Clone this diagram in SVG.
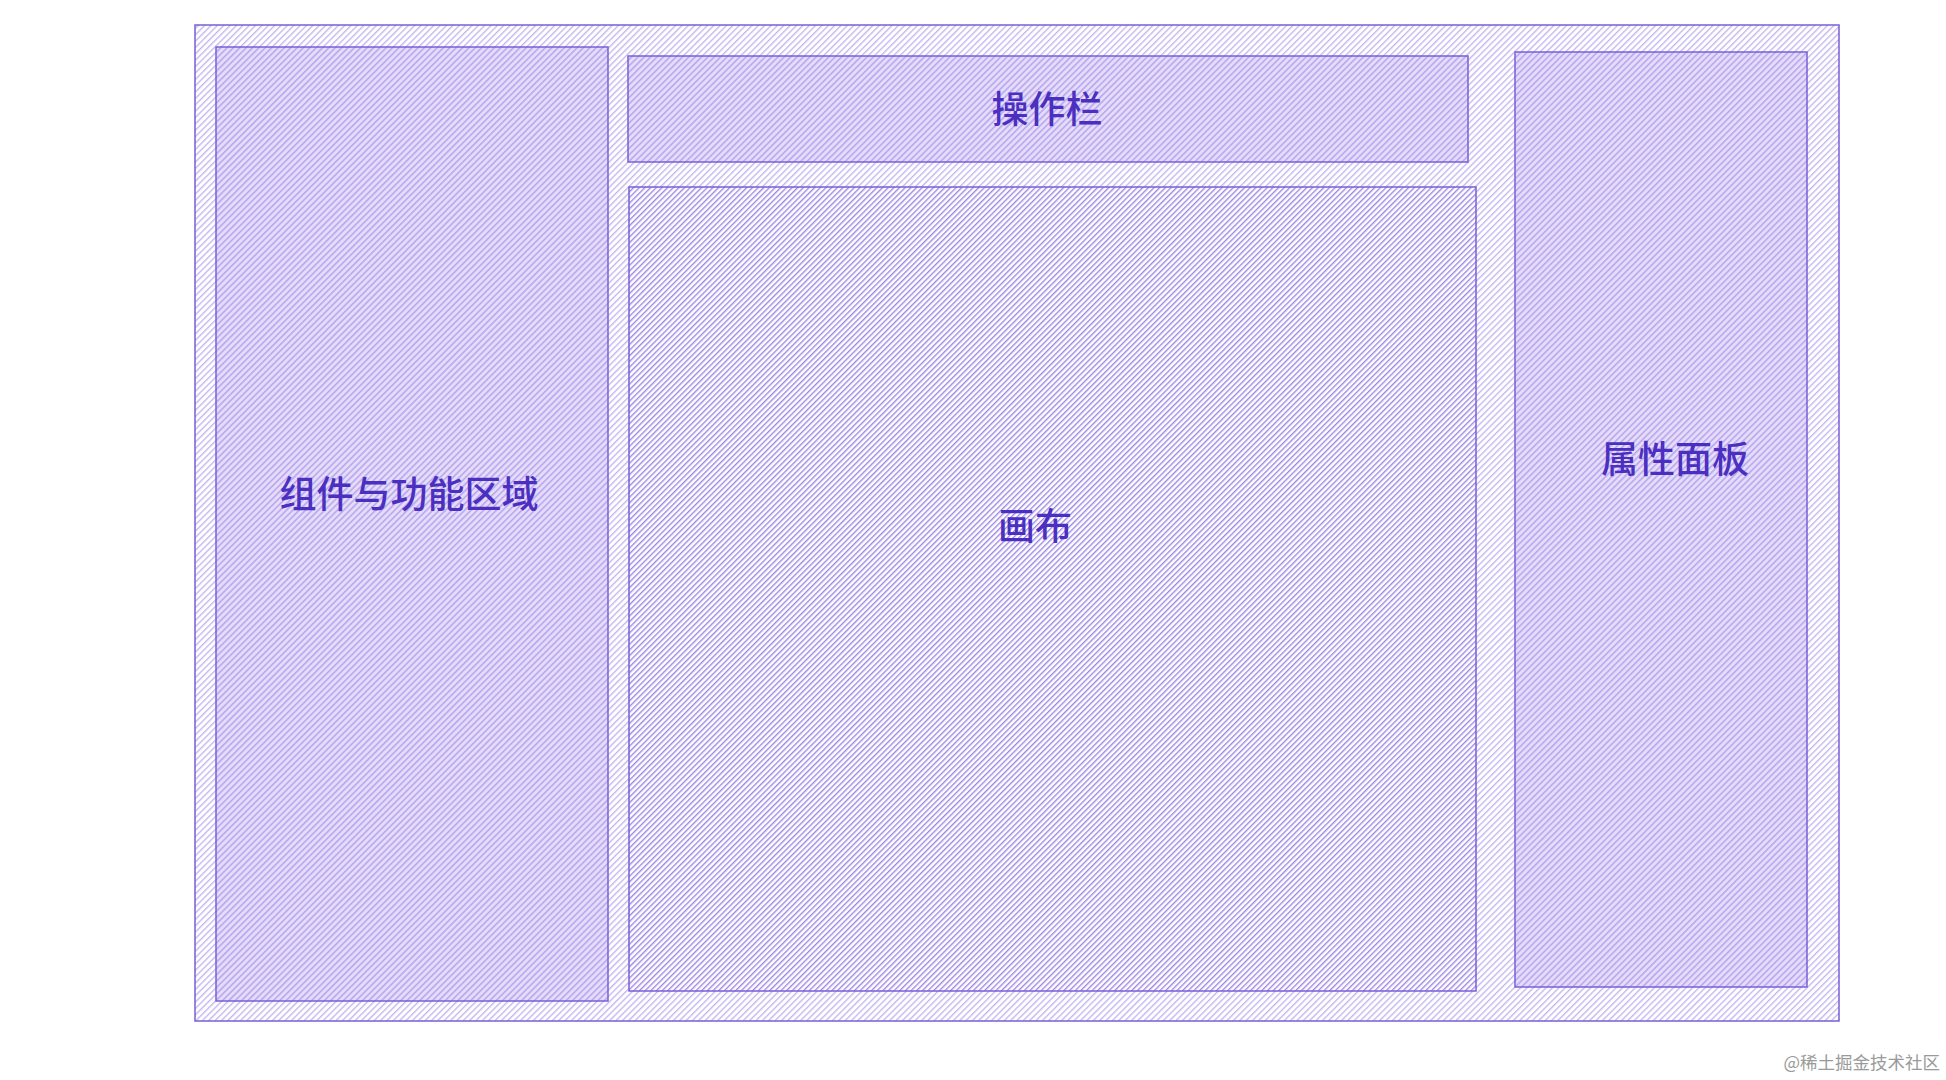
<svg xmlns="http://www.w3.org/2000/svg" width="1946" height="1080" viewBox="0 0 1946 1080">
<defs>
<pattern id="hOuter" width="4.5" height="4.5" patternUnits="userSpaceOnUse" patternTransform="rotate(45)">
<rect width="4.5" height="4.5" fill="#ffffff"/>
<rect width="1.4" height="4.5" fill="#c4b8f0"/>
</pattern>
<pattern id="hPanel" width="4.5" height="4.5" patternUnits="userSpaceOnUse" patternTransform="rotate(45)">
<rect width="4.5" height="4.5" fill="#e6dcf9"/>
<rect width="1.6" height="4.5" fill="#b7a8ee"/>
</pattern>
<pattern id="hCanvas" width="4" height="4" patternUnits="userSpaceOnUse" patternTransform="rotate(45)">
<rect width="4" height="4" fill="#ffffff"/>
<rect width="1.4" height="4" fill="#9d88e6"/>
</pattern>
<style>
.box{stroke:#7a5fd8;stroke-width:1.5}
.lbl{font-family:"Noto Sans CJK SC","Noto Sans",sans-serif;font-size:37px;font-weight:500;fill:#4b2fc0;text-anchor:middle;dominant-baseline:central}
.wm{font-family:"Noto Sans CJK SC","Noto Sans",sans-serif;font-size:17.5px;fill:#9a9a9a;text-anchor:end}
</style>
</defs>
<rect width="1946" height="1080" fill="#ffffff"/>
<g id="outer"><rect class="box" x="195" y="25" width="1644" height="996" fill="url(#hOuter)"/></g>
<g id="components"><rect class="box" x="216" y="47" width="392" height="954" fill="url(#hPanel)"/><text class="lbl" x="409" y="492">组件与功能区域</text></g>
<g id="toolbar"><rect class="box" x="628" y="56" width="840" height="106" fill="url(#hPanel)"/><text class="lbl" x="1047" y="107">操作栏</text></g>
<g id="canvas"><rect class="box" x="629" y="187" width="847" height="804" fill="url(#hCanvas)"/><text class="lbl" x="1035" y="524">画布</text></g>
<g id="properties"><rect class="box" x="1515" y="52" width="292" height="935" fill="url(#hPanel)"/><text class="lbl" x="1675" y="457">属性面板</text></g>
<g id="connectors"></g>
<text class="wm" x="1940" y="1069">@稀土掘金技术社区</text>
</svg>
